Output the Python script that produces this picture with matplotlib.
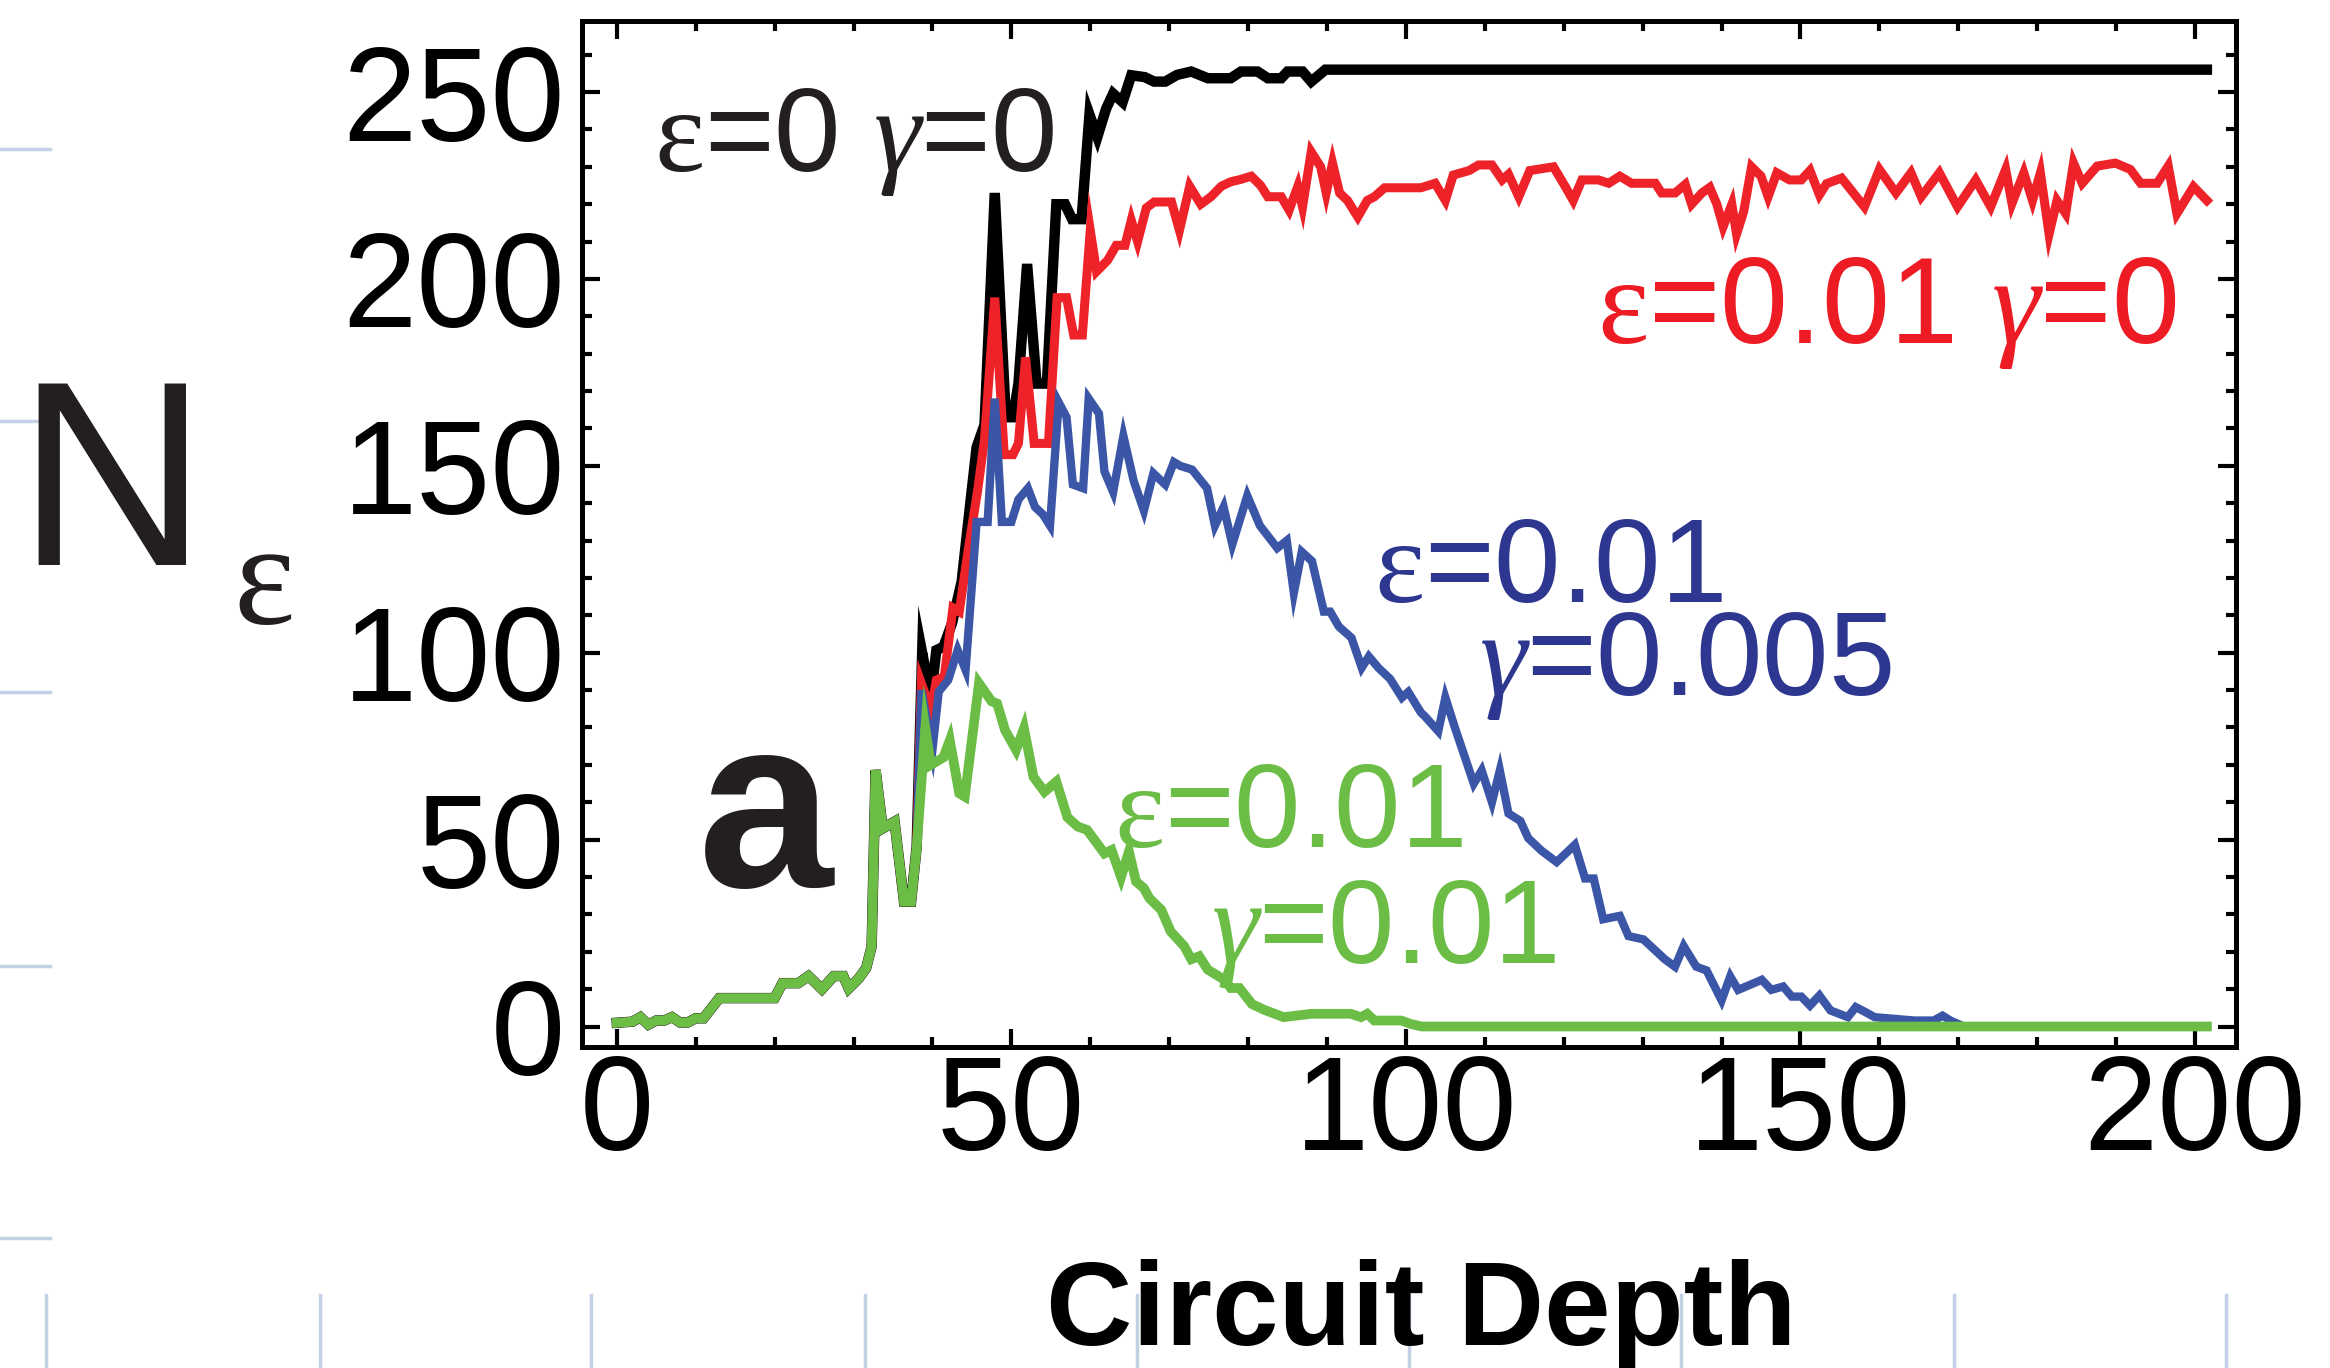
import matplotlib
matplotlib.use("Agg")
import matplotlib.pyplot as plt
from matplotlib.lines import Line2D
from matplotlib.ticker import MultipleLocator

plt.rcParams['font.family'] = ['Liberation Sans', 'DejaVu Sans']
plt.rcParams['mathtext.fontset'] = 'custom'
plt.rcParams['mathtext.rm'] = 'Liberation Serif'
plt.rcParams['mathtext.it'] = 'Liberation Serif:italic'

# (depth, N_eps); all four runs coincide up to depth ~37
base_pts = [(0, 1), (2, 1.3), (3, 2.5), (4, 0.5), (5, 1.6), (6, 1.6), (7, 2.5), (8, 1.1),
            (9, 1.1), (10, 2.2), (11, 2.2), (13, 7.6), (20, 7.6), (21, 11.6), (23, 11.6),
            (24.3, 13.5), (26, 10), (27.5, 13.5), (28.7, 13.5), (29.4, 10.2), (30.6, 12.7),
            (31.6, 15.6), (32.3, 21.4), (32.8, 68.6), (33.7, 53), (35.2, 54.8), (36.4, 33.4),
            (37.3, 33.4)]

ideal_pts = [(38, 48), (38.7, 100), (39.8, 88), (40.5, 100.7), (41.4, 101.6), (42.5, 108),
             (43.7, 119), (44.8, 140), (45.6, 155), (46.6, 161), (47.9, 223), (49.3, 163),
             (50.2, 163), (50.9, 172), (52.0, 204), (53.2, 172), (54.5, 172), (55.7, 220),
             (56.8, 220), (57.7, 216), (58.9, 216), (59.9, 244), (60.9, 238), (62.0, 245.5),
             (62.9, 249.6), (64.1, 247.3), (65.2, 254.5), (66.9, 254), (68.1, 252.8),
             (69.5, 252.8), (71.0, 254.6), (72.8, 255.5), (74.9, 253.7), (77.8, 253.7),
             (79.1, 255.5), (81.2, 255.5), (82.5, 253.7), (84.2, 253.7), (85.0, 255.5),
             (86.9, 255.5), (88.0, 252.8), (89.8, 256), (201.5, 256)]

eps_pts = [(38, 48), (38.6, 91.8), (39.8, 84.7), (40.5, 92.7), (41.5, 93.6), (42.6, 112),
           (43.4, 111), (44.5, 127), (45.7, 143), (46.6, 157), (47.9, 195), (49.1, 153),
           (50.2, 153), (50.9, 156), (51.8, 179), (52.9, 156), (54.7, 156), (55.8, 195),
           (57.0, 195), (57.9, 185), (59.0, 185), (60.0, 213), (60.8, 202), (62.2, 205),
           (63.3, 209), (64.4, 209), (65.2, 215.7), (66.0, 210), (67.1, 219), (68.1, 220.6),
           (70.3, 220.6), (71.3, 213), (72.6, 224.8), (74.0, 220), (75.3, 222), (76.6, 224.8),
           (77.8, 226), (79.0, 226.6), (80.4, 227.5), (81.6, 225), (82.5, 222), (84.2, 222),
           (85.2, 218.4), (86.3, 224.8), (86.9, 219.3), (88.0, 234), (89.2, 230), (89.9, 223),
           (90.7, 231), (91.6, 223), (92.6, 221), (93.9, 216.6), (95.1, 221), (96.0, 222),
           (97.3, 224.4), (101.9, 224.4), (103.7, 225.6), (105.0, 221), (106.0, 227.8),
           (108.0, 229), (109.2, 230.5), (110.9, 230.5), (112.2, 226.5), (113.0, 228),
           (114.3, 222), (115.7, 229), (118.7, 230), (120.2, 224.7), (121.2, 221),
           (122.3, 226.5), (124.4, 226.5), (125.7, 225.6), (127.1, 227.5), (128.6, 225.6),
           (131.6, 225.6), (132.4, 223), (134.1, 223), (135.4, 225.3), (136.2, 220),
           (137.5, 223), (138.5, 224.5), (139.4, 220), (140.2, 214), (141.3, 220),
           (141.9, 212), (142.8, 218), (143.8, 230), (145.0, 227.5), (145.9, 222),
           (147.0, 228.4), (148.6, 226.5), (150.1, 226.5), (151.2, 229), (152.4, 222.5),
           (153.3, 225.5), (155.2, 227), (158.1, 219.3), (160.0, 229.3), (162.1, 223),
           (164.0, 228.4), (165.3, 222), (167.6, 228.4), (169.9, 219.3), (172.2, 226.5),
           (174.1, 219.3), (176.0, 229.3), (176.8, 220.2), (178.3, 228.4), (179.4, 221),
           (180.4, 228.4), (181.5, 212), (182.5, 221), (183.6, 217.5), (184.6, 231),
           (185.7, 225.6), (187.6, 230.2), (189.9, 231), (191.8, 229.3), (193.1, 225.6),
           (195.2, 225.6), (196.6, 230.2), (197.7, 217.5), (199.8, 224.7), (201.5, 221)]

eps_g005_pts = [(38, 48), (38.6, 90), (40.0, 74), (40.8, 89.6), (42.0, 92.7), (43.2, 100.7),
                (44.2, 95.4), (45.6, 135), (47.0, 135), (47.9, 168), (48.8, 135), (50.0, 135),
                (50.9, 141), (52.1, 144), (53.0, 139), (54.0, 137), (54.9, 134), (56.0, 167),
                (57.0, 163), (57.8, 145), (59.1, 144), (59.8, 168), (61.1, 164), (61.8, 148.5),
                (62.9, 143), (64.2, 158), (65.5, 146), (66.8, 138), (68.0, 148), (69.5, 145),
                (70.6, 151), (71.4, 150), (72.9, 149), (74.8, 144), (75.8, 134), (76.9, 139),
                (78.0, 129), (79.9, 142), (81.5, 134), (83.7, 128), (84.9, 130), (85.8, 116),
                (86.8, 127), (88.1, 124.5), (89.6, 111), (90.4, 111), (91.5, 107), (93.1, 104),
                (94.4, 96), (95.3, 99), (96.5, 96), (98.0, 93), (99.5, 88), (100.3, 89.5),
                (101.9, 84), (102.4, 83), (104.1, 79), (105.0, 88), (106.2, 80), (108.6, 65),
                (109.6, 68.5), (110.9, 60), (111.9, 68.5), (113.0, 57), (114.5, 55),
                (115.5, 50.4), (117.2, 47), (119.1, 44), (121.4, 48.6), (122.7, 39.6),
                (123.8, 39.6), (125.0, 28.7), (127.1, 29.6), (128.2, 24.2), (130.1, 23.3),
                (132.8, 18), (134.1, 16), (135.2, 21.5), (136.8, 16), (138.1, 15), (140.0, 7),
                (141.1, 13.4), (142.1, 9.8), (145.1, 12.5), (146.3, 9.8), (147.8, 10.7),
                (148.9, 8), (150.1, 8), (151.2, 5.6), (152.4, 8.3), (153.8, 4.3), (156.0, 2.5),
                (157.0, 5.2), (158.1, 4), (159.4, 2.5), (164.4, 1.6), (166.9, 1.6), (168.0, 2.9),
                (169.0, 1.6), (170.7, 0), (201.5, 0)]

eps_g01_pts = [(38, 47.7), (39.1, 79.8), (39.8, 70), (41.4, 72), (42.2, 76.6), (43.4, 62.4),
               (44.1, 61.5), (45.9, 91.8), (47.5, 87), (48.2, 86.4), (49.2, 79.3), (50.6, 74),
               (51.6, 79.8), (52.8, 66.8), (54.2, 62.8), (55.7, 65.5), (57.1, 56), (58.4, 53.5),
               (59.6, 52.6), (61.8, 46.3), (62.7, 47.2), (63.9, 40), (64.9, 46.8), (65.8, 38.8),
               (66.8, 37), (67.5, 34.3), (69, 31.2), (70.2, 25.4), (71.9, 21.5), (72.8, 18),
               (73.8, 18.8), (74.9, 15.2), (77, 12.5), (77.8, 10.3), (78.9, 10.3), (80.5, 6),
               (82, 4.5), (84.5, 2.5), (88, 3.4), (93, 3.4), (94.3, 2.5), (95.1, 3.4), (96, 1.6),
               (99.4, 1.6), (100.6, 0.7), (102, 0), (201.5, 0)]

series = [
    (ideal_pts, '#000000', 7.5),
    (eps_pts, '#ee2329', 6.5),
    (eps_g005_pts, '#3b56a6', 6.0),
    (eps_g01_pts, '#6bbd46', 7.0),
]

fig = plt.figure(figsize=(23.3, 13.68), dpi=100)
ax = fig.add_axes([0.2498, 0.2346, 0.7099, 0.75])

for pts, color, lw in series:
    full = base_pts + pts
    d = [p[0] for p in full]
    n = [p[1] for p in full]
    ax.plot(d, n, color=color, lw=lw, solid_joinstyle='miter')

ax.set_xlim(-4.4, 205.2)
ax.set_ylim(-5.5, 269)
ax.xaxis.set_major_locator(MultipleLocator(50))
ax.xaxis.set_minor_locator(MultipleLocator(10))
ax.yaxis.set_major_locator(MultipleLocator(50))
ax.yaxis.set_minor_locator(MultipleLocator(10))
ax.tick_params(which='both', direction='in', top=True, right=True, width=3, labelsize=96)
ax.tick_params(which='major', length=13)
ax.tick_params(which='minor', length=7.5)
ax.tick_params(axis='x', pad=4)
ax.tick_params(axis='y', pad=12)
for s in ax.spines.values():
    s.set_linewidth(3.6)

# curve labels (upright serif epsilon, italic gamma)
ep = r'$\mathrm{\varepsilon}$'
ga = r'$\gamma$'
ax.text(4.7, 228.8, ep + '=0 ' + ga + '=0', fontsize=86, color='#231f20')
ax.text(124.2, 183, ep + '=0.01 ' + ga + '=0', fontsize=88, color='#ed1c24')
ax.text(96, 113.5, ep + '=0.01', fontsize=86, color='#2e3790')
ax.text(109.2, 88.6, ga + '=0.005', fontsize=86, color='#2e3790')
ax.text(63, 48, ep + '=0.01', fontsize=86, color='#6bbd46')
ax.text(75.3, 17, ga + '=0.01', fontsize=86, color='#6bbd46')

# axis titles and panel letter
fig.text(0.007, 0.587, 'N', fontsize=190, color='#231f20')
fig.text(0.100, 0.544, 'ε', fontsize=105, color='#231f20', family='Liberation Serif')
fig.text(0.2996, 0.3516, 'a', fontsize=175, fontweight='bold', color='#231f20')
fig.text(0.610, 0.0168, 'Circuit Depth', fontsize=86, fontweight='bold', ha='center')

# faint ruler marks along the left and bottom edges
mark = '#c3d1e7'
for yy in [148.6, 420.5, 692.5, 966, 1238]:
    fig.add_artist(Line2D([0, 50 / 2330], [1 - yy / 1368] * 2, color=mark, lw=2.5,
                          transform=fig.transFigure))
for xx in [46, 319.5, 591, 865, 1137, 1409, 1681, 1954, 2226]:
    fig.add_artist(Line2D([xx / 2330] * 2, [0, 1 - 1295 / 1368], color=mark, lw=2.5,
                          transform=fig.transFigure))

fig.savefig('out.png', dpi=100)
